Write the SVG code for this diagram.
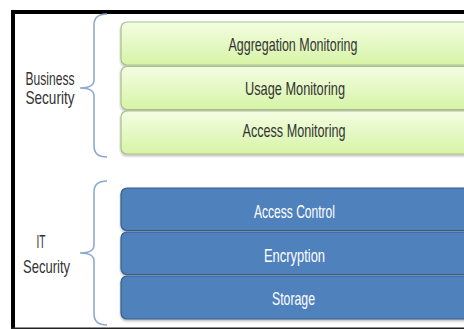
<svg xmlns="http://www.w3.org/2000/svg" width="464" height="329" viewBox="0 0 464 329">
  <defs>
    <linearGradient id="greenFill" x1="0" y1="0" x2="0" y2="1">
      <stop offset="0" stop-color="#f4fde2"/>
      <stop offset="1" stop-color="#d6f4a6"/>
    </linearGradient>
    <filter id="shadow" x="-5%" y="-20%" width="110%" height="150%">
      <feDropShadow dx="0" dy="1.5" stdDeviation="1" flood-color="#000" flood-opacity="0.3"/>
    </filter>
  </defs>
  <style>
    .green { fill: url(#greenFill); stroke: #a9bf8c; stroke-width: 1.2; filter: url(#shadow); }
    .blue { fill: #4f81bd; stroke: #385d8a; stroke-width: 1.2; filter: url(#shadow); }
    .label { font-family: "Liberation Sans", Arial, sans-serif; font-size: 18.5px; text-anchor: middle; }
    .dark { fill: #333333; }
    .light { fill: #ffffff; }
    .side { font-family: "Liberation Sans", Arial, sans-serif; font-size: 18.5px; fill: #333333; text-anchor: middle; }
    .brace { fill: none; stroke: #8eaad0; stroke-width: 1.6; }
  </style>

  <rect x="0" y="0" width="464" height="329" fill="#ffffff"/>

  <!-- frame -->
  <g id="frame">
    <rect x="11" y="10" width="453" height="4" fill="#000000"/>
    <rect x="11" y="10" width="4" height="319" fill="#000000"/>
    <rect x="11" y="327.5" width="453" height="1.5" fill="#222222"/>
  </g>

  <!-- group braces -->
  <g id="connectors">
    <path class="brace" d="M107,14 Q94,14 94,25 L94,80 Q94,88 80,88 Q94,88 94,96 L94,146 Q94,157 107,157"/>
    <path class="brace" d="M107,181 Q94,181 94,192 L94,245 Q94,253 80,253 Q94,253 94,261 L94,314 Q94,325 107,325"/>
  </g>

  <g id="business-label">
    <text class="side" x="50" y="85" textLength="49" lengthAdjust="spacingAndGlyphs">Business</text>
    <text class="side" x="50" y="104" textLength="49" lengthAdjust="spacingAndGlyphs">Security</text>
  </g>
  <g id="it-label">
    <text class="side" x="41" y="248" textLength="9" lengthAdjust="spacingAndGlyphs">IT</text>
    <text class="side" x="46.5" y="273" textLength="47" lengthAdjust="spacingAndGlyphs">Security</text>
  </g>

  <!-- business security layers -->
  <g id="aggregation-monitoring">
    <rect class="green" x="121" y="22" width="350" height="43" rx="6"/>
    <text class="label dark" x="293" y="51" textLength="129" lengthAdjust="spacingAndGlyphs">Aggregation Monitoring</text>
  </g>
  <g id="usage-monitoring">
    <rect class="green" x="121" y="66.5" width="350" height="43" rx="6"/>
    <text class="label dark" x="295" y="95" textLength="100" lengthAdjust="spacingAndGlyphs">Usage Monitoring</text>
  </g>
  <g id="access-monitoring">
    <rect class="green" x="121" y="111" width="350" height="43" rx="6"/>
    <text class="label dark" x="294" y="137" textLength="103" lengthAdjust="spacingAndGlyphs">Access Monitoring</text>
  </g>

  <!-- IT security layers -->
  <g id="access-control">
    <rect class="blue" x="121" y="188" width="350" height="42.5" rx="6"/>
    <text class="label light" x="294.5" y="218" textLength="81" lengthAdjust="spacingAndGlyphs">Access Control</text>
  </g>
  <g id="encryption">
    <rect class="blue" x="121" y="232" width="350" height="42.5" rx="6"/>
    <text class="label light" x="294.5" y="262" textLength="61" lengthAdjust="spacingAndGlyphs">Encryption</text>
  </g>
  <g id="storage">
    <rect class="blue" x="121" y="276" width="350" height="43" rx="6"/>
    <text class="label light" x="293.5" y="305" textLength="43" lengthAdjust="spacingAndGlyphs">Storage</text>
  </g>
</svg>
